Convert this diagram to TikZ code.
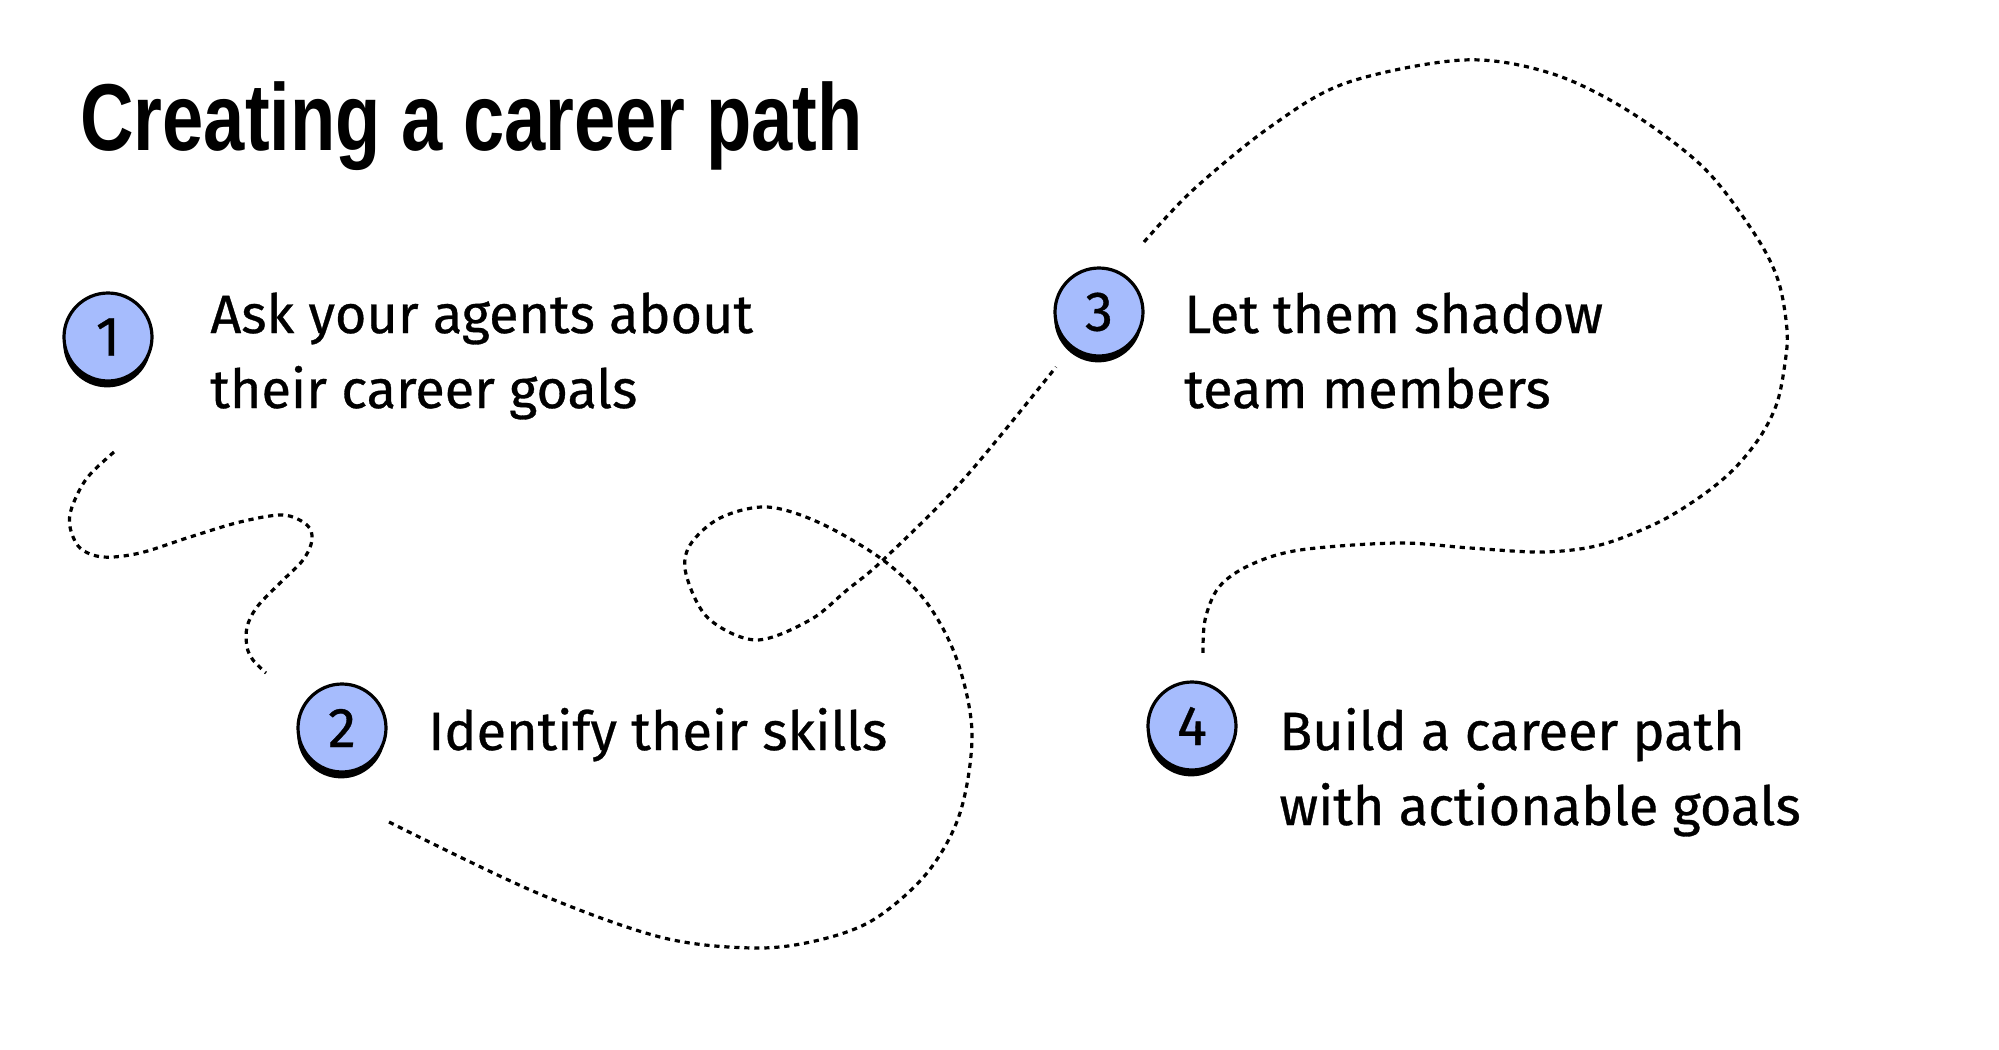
\documentclass[tikz,border=0pt]{standalone}
\usepackage{fontspec}
\setmainfont{Fira Sans}[FakeBold=0.6]
\newfontfamily\titlefont[FakeStretch=0.78]{Liberation Sans}
\usetikzlibrary{shadows}
\definecolor{stepblue}{HTML}{A6BCFD}
\tikzset{
  numdisc/.style={circle, draw=black, line width=1.6pt, fill=stepblue,
    minimum size=44pt, inner sep=0pt, font=\fontsize{28}{30}\selectfont,
    drop shadow={shadow xshift=-0.4pt, shadow yshift=-3.2pt, fill=black, opacity=1}},
  steptext/.style={anchor=base west, align=left, inner sep=0pt,
    font=\fontsize{27}{37.5}\selectfont},
  trail/.style={line width=1.6pt, dash pattern=on 2.6pt off 2.4pt}
}
\begin{document}
\begin{tikzpicture}[x=0.5pt,y=-0.5pt]
\useasboundingbox (0,0) rectangle (1999,1050);
\fill[white] (0,0) rectangle (1999,1050);

\node[anchor=base west, inner sep=0pt, font=\titlefont\bfseries\fontsize{47.5}{50}\selectfont] (title) at (80,150) {Creating a career path};

% trails
\draw[trail] plot[smooth, tension=0.55] coordinates {(114,452) (87,478) (72,507) (70,527) (80,548) (103,557) (140,553) (190,537) (240,522) (283,515) (307,525) (312,540) (303,560) (280,583) (257,607) (247,627) (247,647) (253,660) (266,673)};

\draw[trail] plot[smooth, tension=0.55] coordinates {(389,822) (535,892) (660,937) (752,948) (815,941) (873,920) (927,873) (960,813) (972,733) (957,660) (927,603) (883,560) (820,523) (767,507) (720,518) (690,545) (686,574) (708,618) (756,640) (810,620) (847,590) (883,560) (963,480) (1056,367)};

\draw[trail] plot[smooth, tension=0.55] coordinates {(1144,242) (1193,190) (1270,127) (1346,83) (1463,60) (1550,73) (1627,110) (1703,167) (1754,233) (1778,280) (1787,330) (1785,363) (1777,403) (1760,437) (1733,470) (1700,497) (1657,523) (1600,545) (1543,552) (1470,548) (1398,543) (1300,550) (1250,565) (1219,587) (1205,620) (1203,657)};

% steps
\node[numdisc] (n1) at (108,337) {1};
\node[steptext] (t1) at (210,408) {Ask your agents about\\their career goals};

\node[numdisc] (n2) at (342,728) {2};
\node[steptext] (t2) at (428,750) {Identify their skills};

\node[numdisc] (n3) at (1099,312) {3};
\node[steptext] (t3) at (1184,408) {Let them shadow\\team members};

\node[numdisc] (n4) at (1192,726) {4};
\node[steptext] (t4) at (1279,825) {Build a career path\\with actionable goals};
\end{tikzpicture}
\end{document}
